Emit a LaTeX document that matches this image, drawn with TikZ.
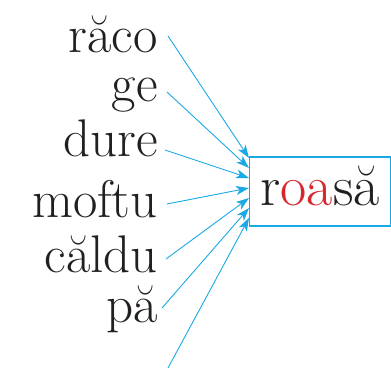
\documentclass[tikz,border=0pt]{standalone}
\usepackage{tikz}
\usetikzlibrary{arrows.meta}
\definecolor{cyan}{HTML}{1BA9E6}
\definecolor{red}{HTML}{D7262E}
\definecolor{ink}{HTML}{231F20}

\begin{document}
\begin{tikzpicture}[x=1pt,y=-1pt,
    word/.style={anchor=base east, inner sep=0pt, text=ink, font=\fontsize{53}{53}\selectfont},
    link/.style={cyan, line width=0.9pt, -{Stealth[length=13pt,width=9pt,inset=3.5pt]}}]
    \useasboundingbox (0,0) rectangle (391,377);
    \node[word] (raco) at (158,53) {răco};
    \node[word] (ge) at (158,102) {ge};
    \node[word] (dure) at (158,157) {dure};
    \node[word] (moftu) at (158,217) {moftu};
    \node[word] (caldu) at (158,272) {căldu};
    \node[word] (pa) at (158,322) {pă};
    \node[draw=cyan, line width=1.2pt, anchor=west, minimum width=141pt, minimum height=69pt,
      text height=27pt, text depth=0pt, text=ink, font=\fontsize{57}{57}\selectfont]
      (box) at (249,191.5) {r\textcolor{red}{oa}să};
    \coordinate (s1) at (168,36);
    \coordinate (s2) at (167,92);
    \coordinate (s3) at (165,150);
    \coordinate (s4) at (167,204);
    \coordinate (s5) at (166,259);
    \coordinate (s6) at (162,308);
    \coordinate (s7) at (168,368);
    \draw[link] (s1) -- ([yshift=33.5pt]box.west);
    \draw[link] (s2) -- ([yshift=23.5pt]box.west);
    \draw[link] (s3) -- ([yshift=13.5pt]box.west);
    \draw[link] (s4) -- ([yshift=3.5pt]box.west);
    \draw[link] (s5) -- ([yshift=-6.5pt]box.west);
    \draw[link] (s6) -- ([yshift=-16.5pt]box.west);
    \draw[link] (s7) -- ([yshift=-26.5pt]box.west);
\end{tikzpicture}
\end{document}
